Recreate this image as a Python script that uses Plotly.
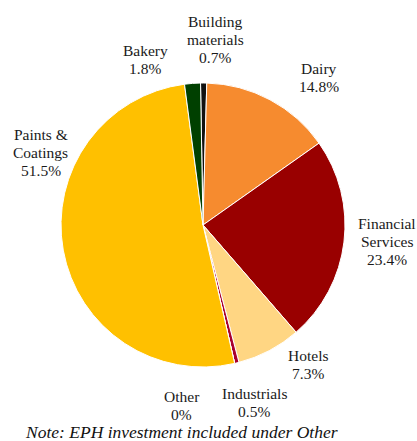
import plotly.graph_objects as go

labels = ["Building materials", "Dairy", "Financial Services", "Hotels",
          "Industrials", "Other", "Paints & Coatings", "Bakery"]
display_labels = ["Building<br>materials", "Dairy", "Financial<br>Services", "Hotels",
                  "Industrials", "Other", "Paints &<br>Coatings", "Bakery"]
values = [0.7, 14.8, 23.4, 7.3, 0.5, 0.0, 51.5, 1.8]
colors = ["#111111", "#F68B2F", "#990000", "#FFD683", "#A8002F", "#7F7F7F", "#FFC000", "#004000"]
note = "Note: EPH investment included under Other"

# label block centres (pixels from top-left) - layout only
label_pos = {
    "Building materials": (215, 39.5),
    "Dairy": (319, 77.5),
    "Financial Services": (387, 241),
    "Hotels": (308, 364),
    "Industrials": (254, 402),
    "Other": (181.5, 405),
    "Paints & Coatings": (40.5, 152.5),
    "Bakery": (145, 59.5),
}
W, H = 417, 441
SERIF = "Liberation Serif"
LINE = 18  # px between label lines

fig = go.Figure(go.Pie(
    labels=labels, values=values, textinfo="none", sort=False,
    direction="clockwise", rotation=-1,
    marker=dict(colors=colors, line=dict(color="white", width=1)),
    domain=dict(x=[61 / W, 345 / W], y=[1 - 367 / H, 1 - 83 / H]),
    showlegend=False,
))

for lab, disp, v in zip(labels, display_labels, values):
    cx, cy = label_pos[lab]
    lines = disp.split("<br>") + [f"{v:g}%"]
    n = len(lines)
    for i, line in enumerate(lines):
        ly = cy + (i - (n - 1) / 2) * LINE
        fig.add_annotation(text=line, x=cx / W, y=1 - ly / H,
                           xref="paper", yref="paper", xanchor="center", yanchor="middle",
                           showarrow=False,
                           font=dict(family=SERIF, size=15.5, color="#1a1a1a"))

fig.add_annotation(text=f"<i>{note}</i>", x=181 / W, y=1 - 432 / H, xref="paper", yref="paper",
                   xanchor="center", yanchor="middle", showarrow=False,
                   font=dict(family=SERIF, size=17.5, color="#111111"))

fig.update_layout(width=W, height=H, margin=dict(l=0, r=0, t=0, b=0),
                  paper_bgcolor="white", plot_bgcolor="white")
fig.write_html("out.html", config={"displayModeBar": False},
               post_script="document.body.style.margin='0';")
